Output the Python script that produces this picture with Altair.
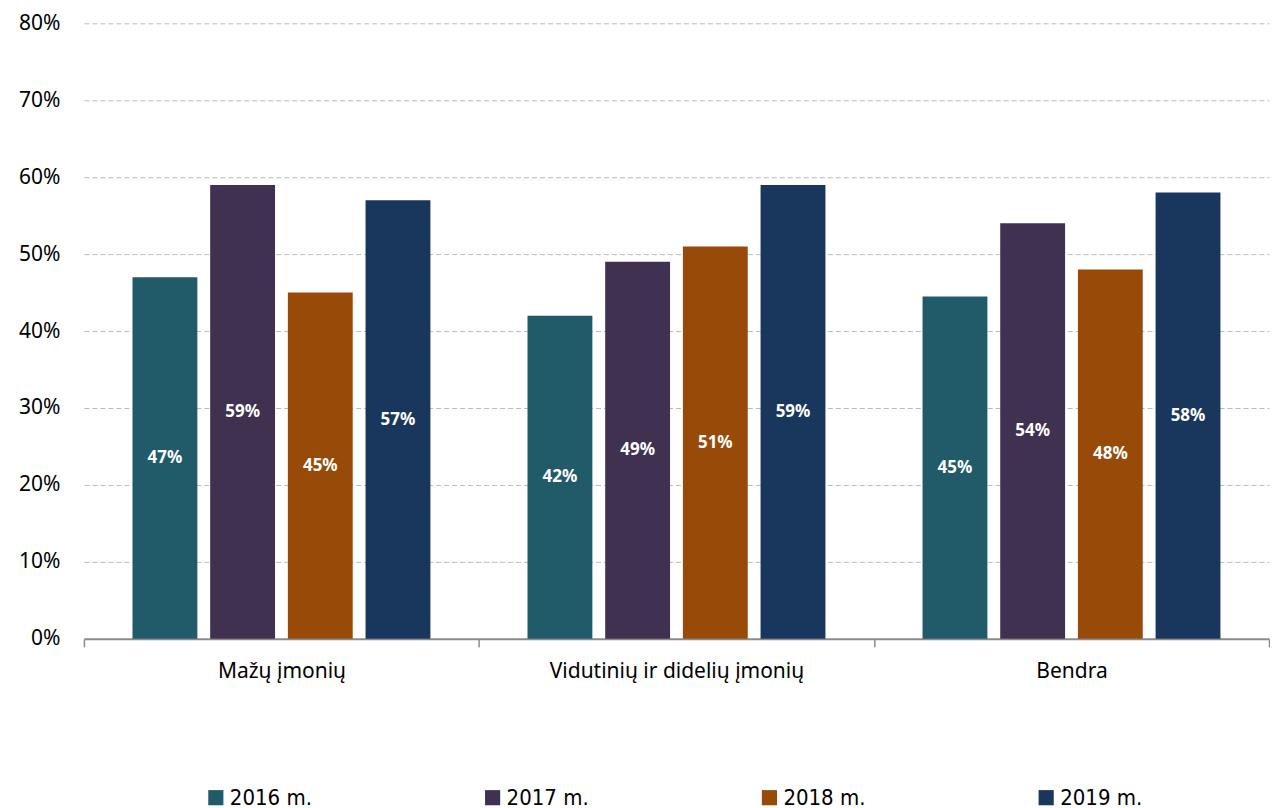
import altair as alt
import pandas as pd

groups = ["Mažų įmonių", "Vidutinių ir didelių įmonių", "Bendra"]
years = ["2016 m.", "2017 m.", "2018 m.", "2019 m."]
colors = ["#215a68", "#403150", "#984a08", "#19365c"]

v2016 = [47, 42, 44.5]
v2017 = [59, 49, 54]
v2018 = [45, 51, 48]
v2019 = [57, 59, 58]

rows = []
for yr, vals in zip(years, [v2016, v2017, v2018, v2019]):
    for g, v in zip(groups, vals):
        rows.append({"group": g, "year": yr, "value": v / 100.0,
                     "mid": v / 200.0, "label": f"{int(v + 0.5)}%"})
df = pd.DataFrame(rows)

FONT = "Noto Sans"

base = alt.Chart(df).encode(
    x=alt.X("group:N", sort=groups, title=None,
            scale=alt.Scale(paddingInner=0, paddingOuter=0),
            axis=alt.Axis(labelAngle=0, labelFontSize=21, labelFont=FONT,
                          labelColor="#000000", labelPadding=14, labelLimit=0,
                          domainColor="#8c8c8c", domainWidth=2,
                          tickBand="extent", tickColor="#8c8c8c",
                          tickSize=8, tickWidth=1.5, grid=False)),
    xOffset=alt.XOffset("year:N", sort=years,
                        scale=alt.Scale(paddingInner=0.165, paddingOuter=0.625)),
)

bars = base.mark_bar().encode(
    y=alt.Y("value:Q", title=None,
            scale=alt.Scale(domain=[0, 0.8]),
            axis=alt.Axis(format=".0%", values=[0, 0.1, 0.2, 0.3, 0.4, 0.5, 0.6, 0.7, 0.8],
                          labelFontSize=21, labelFont=FONT, labelColor="#000000",
                          labelPadding=24, ticks=False, domain=False,
                          grid=True, gridColor="#b4bccc", gridDash=[5, 3],
                          gridWidth=1)),
    color=alt.Color("year:N", sort=years,
                    scale=alt.Scale(domain=years, range=colors),
                    legend=alt.Legend(title=None, orient="none", direction="horizontal",
                                      legendX=121, legendY=764,
                                      symbolType="square", symbolSize=230,
                                      symbolStrokeWidth=0, symbolOpacity=1,
                                      labelFont="DejaVu Sans Condensed",
                                      labelFontSize=22, labelColor="#000000",
                                      columnPadding=169, symbolOffset=0,
                                      labelOffset=3)),
)

labels = base.mark_text(color="white", fontWeight="bold", fontSize=17,
                        font=FONT, baseline="middle").encode(
    y=alt.Y("mid:Q"),
    text="label:N",
)

chart = (bars + labels).properties(
    width=1186, height=616,
    padding={"left": 10, "top": 4, "right": 0, "bottom": 0},
).configure_view(stroke=None)

chart.save("out.html", embed_options={"renderer": "svg", "actions": False})
